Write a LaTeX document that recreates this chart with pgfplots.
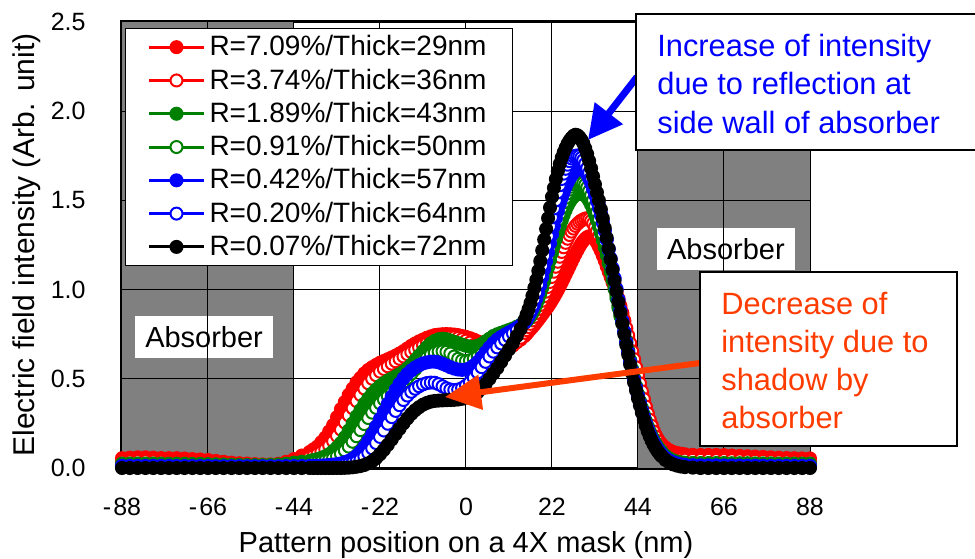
\documentclass[border=0pt]{standalone}
\usepackage{fontspec}
\setmainfont{Liberation Sans}
\usepackage{pgfplots}
\usepackage{pgfplotstable}
\pgfplotsset{compat=1.18}
\usetikzlibrary{arrows.meta}

\definecolor{absgray}{RGB}{128,128,128}
\definecolor{sgreen}{RGB}{0,128,0}
\definecolor{noteblue}{RGB}{0,0,255}
\definecolor{notered}{RGB}{255,60,0}

% Columns: position (nm), then field intensity for the seven absorber thicknesses
% rf = 29nm, ro = 36nm, gf = 43nm, go = 50nm, bf = 57nm, bo = 64nm, k = 72nm
\pgfplotstableread{
x rf ro gf go bf bo k
-88 0.055 0.036 0.025 0.017 0.012 0.008 0.000
-86 0.058 0.037 0.025 0.017 0.012 0.008 0.000
-84 0.060 0.038 0.025 0.017 0.012 0.008 0.000
-82 0.060 0.038 0.025 0.017 0.012 0.008 0.000
-80 0.058 0.037 0.025 0.017 0.012 0.008 0.000
-78 0.056 0.036 0.025 0.017 0.012 0.008 0.000
-76 0.055 0.035 0.024 0.017 0.012 0.008 0.000
-74 0.055 0.035 0.024 0.016 0.011 0.008 0.000
-72 0.053 0.034 0.024 0.016 0.011 0.008 0.000
-70 0.050 0.033 0.023 0.016 0.011 0.008 0.000
-68 0.048 0.032 0.023 0.016 0.011 0.007 0.000
-66 0.045 0.030 0.022 0.015 0.011 0.007 0.000
-64 0.040 0.028 0.021 0.015 0.010 0.007 0.000
-62 0.035 0.026 0.020 0.014 0.010 0.007 0.000
-60 0.030 0.024 0.019 0.014 0.010 0.007 0.000
-58 0.027 0.022 0.018 0.013 0.010 0.007 0.000
-56 0.025 0.020 0.017 0.013 0.010 0.007 0.000
-54 0.022 0.019 0.017 0.013 0.010 0.007 0.000
-52 0.020 0.018 0.017 0.013 0.010 0.007 0.000
-50 0.020 0.018 0.018 0.014 0.010 0.007 0.000
-48 0.024 0.019 0.020 0.015 0.010 0.007 0.000
-46 0.035 0.023 0.024 0.017 0.011 0.007 0.000
-44 0.050 0.032 0.030 0.020 0.011 0.008 0.000
-42 0.070 0.045 0.035 0.022 0.012 0.008 0.000
-40 0.090 0.060 0.040 0.025 0.012 0.008 0.000
-39 0.105 0.068 0.045 0.028 0.012 0.008 0.000
-38 0.120 0.078 0.050 0.031 0.013 0.008 0.000
-37 0.145 0.090 0.057 0.035 0.014 0.009 0.000
-36 0.170 0.105 0.066 0.040 0.015 0.009 0.000
-35 0.205 0.125 0.078 0.046 0.017 0.010 0.000
-34 0.240 0.150 0.095 0.055 0.019 0.011 0.000
-33 0.285 0.180 0.115 0.066 0.022 0.013 0.000
-32 0.330 0.215 0.140 0.080 0.026 0.015 0.000
-31 0.370 0.255 0.172 0.098 0.032 0.018 0.001
-30 0.410 0.295 0.210 0.120 0.040 0.022 0.002
-29 0.445 0.335 0.250 0.147 0.052 0.028 0.004
-28 0.480 0.375 0.290 0.178 0.068 0.036 0.007
-27 0.505 0.410 0.325 0.212 0.090 0.048 0.011
-26 0.530 0.445 0.360 0.246 0.118 0.064 0.017
-25 0.550 0.475 0.390 0.280 0.152 0.085 0.026
-24 0.565 0.500 0.418 0.310 0.190 0.110 0.038
-23 0.578 0.520 0.440 0.337 0.232 0.140 0.055
-22 0.590 0.540 0.460 0.362 0.275 0.174 0.077
-21 0.600 0.555 0.476 0.384 0.318 0.210 0.102
-20 0.610 0.570 0.490 0.403 0.360 0.248 0.130
-19 0.620 0.585 0.502 0.421 0.400 0.285 0.160
-18 0.630 0.598 0.513 0.440 0.438 0.320 0.190
-17 0.642 0.612 0.526 0.460 0.472 0.352 0.220
-16 0.655 0.625 0.540 0.481 0.502 0.381 0.250
-15 0.670 0.638 0.558 0.504 0.527 0.406 0.278
-14 0.685 0.650 0.580 0.528 0.547 0.427 0.303
-13 0.698 0.663 0.605 0.553 0.563 0.444 0.324
-12 0.710 0.676 0.630 0.578 0.576 0.458 0.341
-11 0.720 0.688 0.655 0.600 0.586 0.469 0.355
-10 0.730 0.700 0.678 0.619 0.592 0.476 0.365
-9 0.738 0.710 0.698 0.634 0.596 0.479 0.372
-8 0.745 0.718 0.713 0.645 0.596 0.478 0.376
-7 0.748 0.725 0.722 0.652 0.592 0.470 0.378
-6 0.750 0.730 0.725 0.654 0.584 0.458 0.379
-5 0.751 0.733 0.722 0.651 0.575 0.447 0.380
-4 0.750 0.734 0.715 0.642 0.565 0.440 0.381
-3 0.748 0.733 0.707 0.625 0.557 0.437 0.382
-2 0.745 0.729 0.700 0.612 0.552 0.440 0.384
-1 0.740 0.722 0.692 0.603 0.550 0.448 0.388
0 0.735 0.714 0.685 0.600 0.552 0.462 0.395
1 0.728 0.703 0.680 0.603 0.560 0.480 0.400
2 0.720 0.690 0.680 0.612 0.575 0.505 0.410
3 0.710 0.676 0.685 0.625 0.595 0.535 0.425
4 0.700 0.664 0.695 0.640 0.620 0.565 0.445
5 0.690 0.654 0.710 0.655 0.648 0.595 0.470
6 0.680 0.647 0.725 0.670 0.675 0.625 0.500
7 0.674 0.644 0.740 0.688 0.700 0.652 0.530
8 0.670 0.645 0.750 0.705 0.720 0.676 0.560
9 0.671 0.650 0.758 0.722 0.735 0.698 0.595
10 0.675 0.658 0.766 0.738 0.748 0.718 0.630
11 0.682 0.670 0.774 0.752 0.760 0.737 0.665
12 0.690 0.686 0.782 0.766 0.772 0.755 0.700
13 0.705 0.706 0.792 0.780 0.785 0.773 0.740
14 0.720 0.730 0.803 0.797 0.800 0.792 0.780
15 0.740 0.758 0.814 0.818 0.820 0.815 0.830
15.5 0.752 0.773 0.822 0.835 0.835 0.830 0.860
16 0.765 0.790 0.835 0.850 0.850 0.855 0.890
16.5 0.778 0.808 0.850 0.868 0.870 0.880 0.925
17 0.790 0.827 0.868 0.890 0.893 0.910 0.965
17.5 0.803 0.847 0.890 0.915 0.920 0.945 1.010
18 0.817 0.868 0.915 0.945 0.950 0.985 1.055
18.5 0.831 0.890 0.943 0.978 0.985 1.030 1.105
19 0.845 0.913 0.975 1.015 1.025 1.080 1.160
19.5 0.860 0.937 1.010 1.055 1.070 1.135 1.220
20 0.875 0.962 1.047 1.095 1.115 1.190 1.280
20.5 0.890 0.988 1.085 1.138 1.160 1.245 1.340
21 0.905 1.015 1.125 1.180 1.210 1.300 1.400
21.5 0.922 1.043 1.165 1.225 1.260 1.355 1.460
22 0.940 1.071 1.205 1.270 1.310 1.405 1.520
22.5 0.958 1.100 1.245 1.312 1.355 1.455 1.570
23 0.977 1.128 1.283 1.352 1.400 1.500 1.620
23.5 0.997 1.156 1.320 1.390 1.440 1.545 1.665
24 1.018 1.184 1.355 1.425 1.480 1.585 1.705
24.5 1.040 1.211 1.388 1.458 1.515 1.620 1.740
25 1.062 1.237 1.418 1.488 1.545 1.650 1.770
25.5 1.085 1.262 1.445 1.515 1.575 1.677 1.795
26 1.108 1.285 1.470 1.540 1.600 1.700 1.818
26.5 1.131 1.306 1.490 1.560 1.622 1.720 1.836
27 1.154 1.325 1.507 1.577 1.640 1.735 1.850
27.5 1.177 1.342 1.520 1.590 1.655 1.745 1.862
28 1.199 1.357 1.530 1.598 1.667 1.750 1.868
28.5 1.220 1.369 1.536 1.603 1.675 1.752 1.865
29 1.240 1.379 1.540 1.605 1.680 1.748 1.855
29.5 1.258 1.387 1.540 1.603 1.680 1.738 1.840
30 1.273 1.393 1.536 1.597 1.675 1.725 1.820
30.5 1.285 1.398 1.528 1.587 1.662 1.705 1.792
31 1.294 1.400 1.515 1.572 1.645 1.680 1.760
31.5 1.299 1.395 1.497 1.552 1.622 1.655 1.722
32 1.300 1.385 1.475 1.528 1.595 1.625 1.680
32.5 1.295 1.370 1.449 1.500 1.563 1.590 1.635
33 1.280 1.350 1.420 1.468 1.530 1.555 1.590
33.5 1.262 1.327 1.388 1.433 1.495 1.515 1.545
34 1.240 1.300 1.353 1.395 1.458 1.475 1.500
34.5 1.217 1.272 1.316 1.355 1.418 1.430 1.450
35 1.190 1.240 1.277 1.312 1.375 1.380 1.400
35.5 1.162 1.208 1.236 1.268 1.330 1.330 1.345
36 1.130 1.175 1.193 1.222 1.280 1.280 1.290
36.5 1.100 1.140 1.148 1.175 1.228 1.225 1.230
37 1.070 1.105 1.101 1.125 1.175 1.170 1.170
37.5 1.040 1.068 1.053 1.073 1.120 1.115 1.110
38 1.010 1.030 1.003 1.020 1.065 1.060 1.050
38.5 0.976 0.990 0.951 0.965 1.005 1.000 0.990
39 0.940 0.950 0.898 0.910 0.945 0.940 0.930
39.5 0.900 0.910 0.850 0.860 0.885 0.880 0.870
40 0.860 0.870 0.810 0.815 0.825 0.820 0.810
40.5 0.820 0.828 0.765 0.765 0.765 0.760 0.750
41 0.780 0.785 0.715 0.710 0.705 0.700 0.690
41.5 0.735 0.743 0.660 0.655 0.650 0.645 0.635
42 0.690 0.700 0.605 0.600 0.595 0.590 0.580
42.5 0.645 0.655 0.555 0.550 0.545 0.540 0.530
43 0.600 0.610 0.505 0.500 0.495 0.490 0.480
43.5 0.555 0.565 0.460 0.455 0.450 0.445 0.435
44 0.510 0.520 0.415 0.410 0.405 0.400 0.390
44.5 0.465 0.475 0.375 0.370 0.365 0.360 0.350
45 0.420 0.430 0.337 0.330 0.325 0.320 0.310
45.5 0.380 0.387 0.300 0.292 0.287 0.282 0.272
46 0.340 0.345 0.265 0.257 0.252 0.247 0.237
46.5 0.305 0.306 0.234 0.225 0.220 0.216 0.206
47 0.270 0.270 0.206 0.197 0.192 0.188 0.178
47.5 0.240 0.236 0.181 0.171 0.167 0.163 0.153
48 0.210 0.205 0.159 0.149 0.145 0.141 0.131
48.5 0.186 0.177 0.139 0.129 0.125 0.121 0.112
49 0.165 0.152 0.121 0.111 0.108 0.104 0.095
49.5 0.148 0.130 0.106 0.096 0.093 0.089 0.080
50 0.135 0.112 0.093 0.083 0.080 0.076 0.067
51 0.115 0.085 0.070 0.060 0.058 0.054 0.046
52 0.100 0.068 0.054 0.045 0.043 0.039 0.031
53 0.090 0.058 0.043 0.035 0.033 0.028 0.020
54 0.084 0.052 0.036 0.028 0.026 0.021 0.013
55 0.080 0.049 0.032 0.024 0.021 0.016 0.008
56 0.077 0.047 0.030 0.022 0.018 0.013 0.005
58 0.074 0.046 0.029 0.021 0.016 0.011 0.002
60 0.073 0.046 0.028 0.020 0.015 0.010 0.000
62 0.073 0.046 0.028 0.020 0.015 0.010 0.000
64 0.073 0.045 0.028 0.020 0.015 0.010 0.000
66 0.072 0.045 0.028 0.020 0.014 0.010 0.000
68 0.070 0.044 0.027 0.020 0.014 0.009 0.000
70 0.068 0.043 0.027 0.019 0.014 0.009 0.000
72 0.066 0.042 0.027 0.019 0.013 0.009 0.000
74 0.064 0.041 0.026 0.019 0.013 0.009 0.000
76 0.062 0.040 0.026 0.018 0.013 0.008 0.000
78 0.060 0.039 0.026 0.018 0.012 0.008 0.000
80 0.058 0.038 0.025 0.018 0.012 0.008 0.000
82 0.056 0.037 0.025 0.018 0.012 0.008 0.000
84 0.055 0.036 0.025 0.017 0.012 0.008 0.000
86 0.054 0.036 0.025 0.017 0.012 0.008 0.000
88 0.054 0.036 0.025 0.017 0.012 0.008 0.000
}\fieldtable

\pgfplotsset{
  solidser/.style={color=#1, line width=1.5pt, mark=*, mark size=3pt,
    mark options={solid, fill=#1, draw=#1, line width=1pt}},
  openser/.style={color=#1, line width=1.5pt, mark=*, mark size=3pt,
    mark options={solid, fill=white, draw=#1, line width=1pt}},
}
\tikzset{gridline/.style={black, line width=0.5pt}}

\begin{document}
\begin{tikzpicture}
\path[use as bounding box] (-61pt,-45pt) rectangle (426.5pt,234pt);
\begin{axis}[
  at={(0pt,0pt)}, anchor=south west,
  scale only axis, width=344pt, height=223pt,
  xmin=-88, xmax=88, ymin=0, ymax=2.5,
  xtick={-88,-66,-44,-22,0,22,44,66,88},
  xticklabels={{-\kern1pt88},{-\kern1pt66},{-\kern1pt44},{-\kern1pt22},0,22,44,66,88},
  ytick={0,0.5,1,1.5,2,2.5},
  yticklabels={0.0,0.5,1.0,1.5,2.0,2.5},
  tick label style={font=\fontsize{12.5}{14}\selectfont, inner sep=0pt},
  xticklabel style={anchor=north, yshift=-15pt},
  yticklabel style={anchor=east, xshift=-18pt},
  major tick length=0pt,
  grid=major,
  major grid style={black, line width=0.5pt},
  axis line style={black, line width=1.5pt},
  xlabel={Pattern position on a 4X mask (nm)},
  ylabel={Electric field intensity (Arb. unit)},
  xlabel style={font=\fontsize{14.5}{17}\selectfont, at={(axis description cs:0.5,-0.1726)}, anchor=center},
  ylabel style={font=\fontsize{15}{17}\selectfont, at={(axis description cs:-0.138,0.5)}, anchor=center},
  legend cell align=left,
  legend style={at={(0.00436,0.9865)}, anchor=north west,
    draw=black, line width=0.5pt, fill=white,
    font=\fontsize{14}{16}\selectfont,
    inner xsep=11pt, inner ysep=1.5pt, row sep=1pt},
  legend image code/.code={
    \draw[mark repeat=2, mark phase=2, #1] plot coordinates {(0pt,0pt) (13.75pt,0pt) (27.5pt,0pt)};},
]
% absorber regions
\fill[absgray] (axis cs:-88,0) rectangle (axis cs:-44,2.5);
\fill[absgray] (axis cs:44,0) rectangle (axis cs:88,2.5);
\node[fill=white, inner sep=0pt, minimum width=69pt, minimum height=21pt,
      font=\fontsize{14.5}{16}\selectfont] at (axis cs:-67,0.734) {Absorber};
\node[fill=white, inner sep=0pt, minimum width=69pt, minimum height=21pt,
      font=\fontsize{14.5}{16}\selectfont] at (axis cs:66.5,1.228) {Absorber};
% grid lines that run across the absorber regions
\draw[gridline] (axis cs:-66,0) -- (axis cs:-66,2.5);
\draw[gridline] (axis cs:66,0) -- (axis cs:66,2.5);
\draw[gridline] (axis cs:-44,0) -- (axis cs:-44,2.5);
\draw[gridline] (axis cs:44,0) -- (axis cs:44,2.5);
\draw[gridline] (axis cs:-88,0.5) -- (axis cs:-44,0.5);
\draw[gridline] (axis cs:-88,1.0) -- (axis cs:-44,1.0);
\draw[gridline] (axis cs:-88,1.5) -- (axis cs:-44,1.5);
\draw[gridline] (axis cs:-88,2.0) -- (axis cs:-44,2.0);
\draw[gridline] (axis cs:44,0.5) -- (axis cs:88,0.5);
\draw[gridline] (axis cs:44,1.0) -- (axis cs:88,1.0);
\draw[gridline] (axis cs:44,1.5) -- (axis cs:88,1.5);
\draw[gridline] (axis cs:44,2.0) -- (axis cs:88,2.0);

\addplot[solidser=red]    table[x=x, y=rf] {\fieldtable};
\addlegendentry{R=7.09\%/Thick=29nm}
\addplot[openser=red]     table[x=x, y=ro] {\fieldtable};
\addlegendentry{R=3.74\%/Thick=36nm}
\addplot[solidser=sgreen] table[x=x, y=gf] {\fieldtable};
\addlegendentry{R=1.89\%/Thick=43nm}
\addplot[openser=sgreen]  table[x=x, y=go] {\fieldtable};
\addlegendentry{R=0.91\%/Thick=50nm}
\addplot[solidser=blue]   table[x=x, y=bf] {\fieldtable};
\addlegendentry{R=0.42\%/Thick=57nm}
\addplot[openser=blue]    table[x=x, y=bo] {\fieldtable};
\addlegendentry{R=0.20\%/Thick=64nm}
\addplot[solidser=black]  table[x=x, y=k]  {\fieldtable};
\addlegendentry{R=0.07\%/Thick=72nm}
\end{axis}

% shadow annotation arrow, over the curves
\draw[notered, line width=3pt, -{Triangle[length=18pt, width=17pt]}]
  (289pt,52.5pt) -- (161.5pt,35.5pt);

% reflection callout
\draw[noteblue, line width=3.5pt, -{Triangle[length=17pt, width=17pt]}]
  (257.5pt,195.5pt) -- (233pt,164pt);
\draw[line width=0.7pt, fill=white] (257pt,159pt) rectangle (440pt,227pt);
\begin{scope}[every node/.style={anchor=base west, inner sep=0pt, text=noteblue,
    font=\fontsize{15.4}{18}\selectfont}]
  \node at (267.5pt,205.5pt) {Increase of intensity};
  \node at (267.5pt,186.5pt) {due to reflection at};
  \node at (267.5pt,167.5pt) {side wall of absorber};
\end{scope}

% shadow callout
\draw[line width=0.6pt, fill=white] (289pt,11pt) rectangle (417.5pt,98pt);
\begin{scope}[every node/.style={anchor=base west, inner sep=0pt, text=notered,
    font=\fontsize{15.4}{18}\selectfont}]
  \node at (299.5pt,77pt) {Decrease of};
  \node at (299.5pt,58pt) {intensity due to};
  \node at (299.5pt,38.7pt) {shadow by};
  \node at (299.5pt,20pt) {absorber};
\end{scope}
\end{tikzpicture}
\end{document}
